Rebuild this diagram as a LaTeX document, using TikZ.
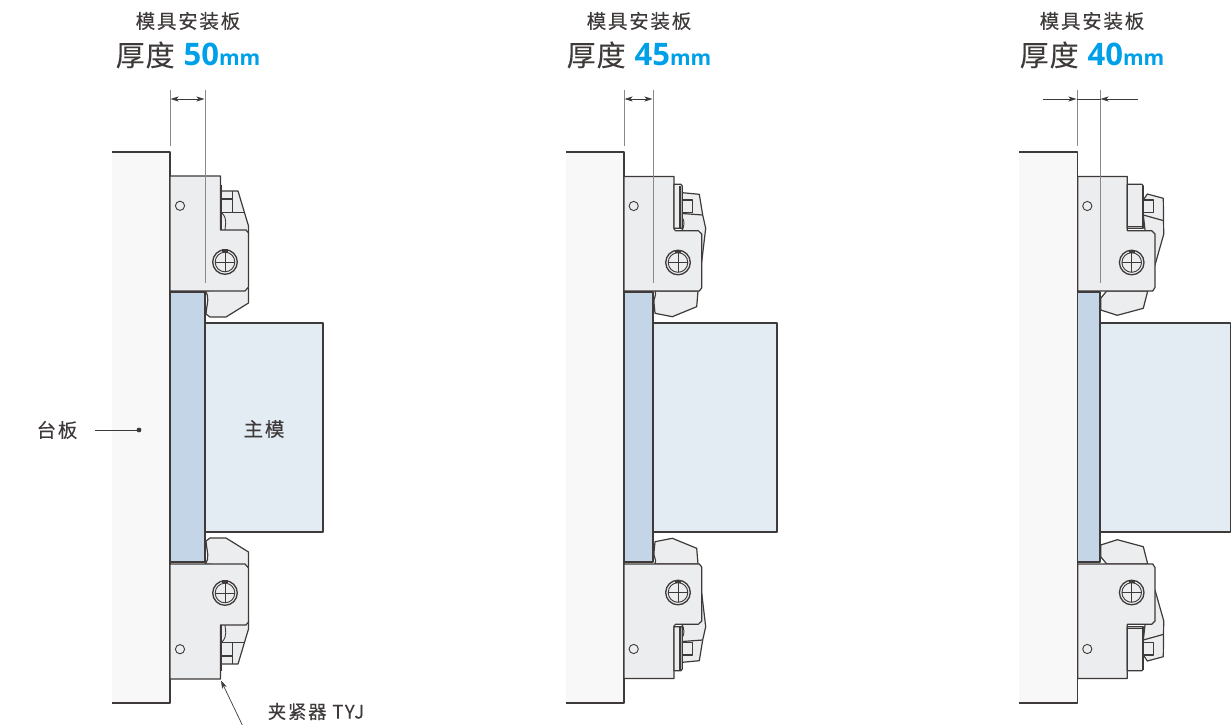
\documentclass[tikz,border=0pt]{standalone}
\usepackage{fontspec}
\setmainfont{Open Sans}
\newfontfamily\cjk[LetterSpace=9,FakeBold=0.15]{Noto Sans CJK SC}
\newfontfamily\cjkbig[LetterSpace=3,FakeBold=0.1]{Noto Sans CJK SC}
\usetikzlibrary{arrows.meta, positioning}
\definecolor{inkline}{HTML}{3E3A39}
\definecolor{dimline}{HTML}{8A8888}
\definecolor{platefill}{HTML}{F8F8F8}
\definecolor{bodyfill}{HTML}{ECEDEE}
\definecolor{shimfill}{HTML}{C3D5E6}
\definecolor{moldfill}{HTML}{E3EBF3}
\definecolor{valueblue}{HTML}{00A0E9}
\newcommand{\sizetext}[1]{{\cjkbig 厚度}\hspace{9pt}\textcolor{valueblue}{\bfseries\fontsize{31}{34}\selectfont #1{\fontsize{21}{24}\selectfont mm}}}
\tikzset{
  part/.style={draw=inkline, line width=1.2pt, line join=round},
  bodypart/.style={part, fill=bodyfill},
  thinpart/.style={draw=inkline, line width=.9pt},
  boldedge/.style={draw=inkline, line width=2pt},
  extline/.style={draw=dimline, line width=1pt},
  dimarrow/.style={draw=inkline, line width=.7pt, {Stealth[length=8pt,width=5pt,inset=2pt]}-{Stealth[length=8pt,width=5pt,inset=2pt]}},
  dimin/.style={draw=inkline, line width=.7pt, -{Stealth[length=8pt,width=5pt,inset=2pt]}},
  leader/.style={draw=inkline, line width=.7pt},
  smalltext/.style={inner sep=0pt, text=inkline, font=\cjk\fontsize{19.5}{22}\selectfont},
  bigtext/.style={inner sep=0pt, anchor=base, text=inkline, font=\fontsize{29}{32}\selectfont},
  lower/.style={shift={(0,855)}, yscale=-1},
  screw/.pic={
    \draw[thinpart, fill=bodyfill, line width=1.3pt] (0,0) circle (12.3);
    \draw[thinpart] (0,0) circle (9.8);
    \draw[thinpart] (-9.8,0) -- (9.8,0) (0,-9.8) -- (0,9.8);
    \fill[inkline] (-3,-13) rectangle (3,-10);
  },
  clampone/.pic={
    \path[bodypart] (205,291) .. controls (210,297) and (207,302) .. (206,314) -- (210,317) -- (226,317) -- (248.5,303) -- (248.5,288) -- cycle;
    \path[bodypart] (221,191) -- (238,191) -- (248.5,226) -- (248.5,234) -- (221,234) -- cycle;
    \path[part] (221.7,212.7) -- (243.5,212.7);
    \path[part] (232.3,191) -- (232.3,199);
    \path[bodypart] (221.7,199) rectangle (232.3,212.3);
    \path[thinpart] (222,213) .. controls (228,219) and (225,226) .. (225,230);
    \path[bodypart] (170,176) -- (220.5,176) -- (220.5,230) -- (246,230) -- (248.5,233) -- (248.5,287) -- (245,291) -- (170,291) -- cycle;
    \path[boldedge] (221.3,184.5) -- (221.3,230);
    \draw[thinpart] (180,205.8) circle (4.6);
    \pic at (225,262) {screw};
  },
  clamptwo/.pic={
    \path[bodypart] (655,291) .. controls (657,296) and (653,298) .. (654,303) -- (655,313.3) -- (672.3,316.7) -- (696.7,306.7) -- (698,291) -- cycle;
    \path[bodypart] (682.3,192.7) -- (699.3,194.3) -- (702.7,215) -- (705.7,228.3) -- (701.7,261.7) -- (690,261.7) -- (682.3,230.7) -- cycle;
    \path[part] (682.3,213.5) -- (702.7,215);
    \path[bodypart] (681.7,200) rectangle (692.3,212.3);
    \path[thinpart] (682,217) .. controls (685,221) and (684,226) .. (682.5,230);
    \path[bodypart] (624,176.5) -- (674,176.5) -- (674,229) -- (675.5,230.7) -- (698.3,230.7) -- (701.7,234) -- (701.7,288) -- (699.3,291) -- (624,291) -- cycle;
    \path[bodypart] (674,184.3) -- (681,184.3) -- (682.3,186) -- (682.3,228.3) -- (674,228.3) -- cycle;
    \path[boldedge] (680,185.5) -- (680,228);
    \draw[thinpart] (633.7,206) circle (4.6);
    \pic at (678,262.5) {screw};
  },
  clampthree/.pic={
    \path[bodypart] (1106.7,291) -- (1100.7,298.3) -- (1100.7,310) -- (1117.3,315.3) -- (1143.3,308.3) -- (1147.7,291) -- cycle;
    \path[bodypart] (1147.3,194) -- (1163.3,198.3) -- (1163.7,234.3) -- (1155,265) -- (1145,265) -- (1145,230) -- (1143.3,215) -- (1143.3,200) -- cycle;
    \path[part] (1143.3,215) -- (1163.7,220.7);
    \path[bodypart] (1142.7,200) rectangle (1153.3,212.3);
    \path[bodypart] (1127.3,176.5) -- (1127.3,230.7) -- (1151.7,230.7) -- (1155,234) -- (1155,287.5) -- (1152.7,291) -- (1077.7,291) -- (1077.7,176.5) -- cycle;
    \path[bodypart] (1127.3,184.3) -- (1142,184.3) -- (1143.3,186) -- (1143.3,228.3) -- (1127.3,228.3) -- cycle;
    \path[boldedge] (1143,185.5) -- (1143,228);
    \path[thinpart] (1127.3,226.5) -- (1142.5,226.5);
    \draw[thinpart] (1087.3,206) circle (4.6);
    \pic at (1131.7,262.5) {screw};
  }
}
\begin{document}
\begin{tikzpicture}[x=1pt,y=-1pt]
  \useasboundingbox (0,0) rectangle (1232,725);

  \path[part, fill=moldfill] (205,323) rectangle (323,532);
  \path[part, fill=shimfill] (170,292) rectangle (205,562);
  \fill[platefill] (112,152) rectangle (170,703);
  \path[part] (112,152) -- (170,152) -- (170,703) -- (112,703);
  \pic at (0,0) {clampone};
  \pic[lower] at (0,0) {clampone};
  \path[boldedge] (170,292) -- (205,292) (170,562) -- (205,562);

  \path[part, fill=moldfill] (653,323) rectangle (777,532);
  \path[part, fill=shimfill] (624,292) rectangle (653,562);
  \fill[platefill] (566,152) rectangle (624,703);
  \path[part] (566,152) -- (624,152) -- (624,703) -- (566,703);
  \pic at (0,0) {clamptwo};
  \pic[lower] at (0,0) {clamptwo};
  \path[boldedge] (624,292) -- (653,292) (624,562) -- (653,562);

  \path[part, fill=moldfill] (1100,323) rectangle (1230.5,532);
  \path[part, fill=shimfill] (1077.7,292) rectangle (1100,562);
  \fill[platefill] (1019,152) rectangle (1077.7,703);
  \path[part] (1019,152) -- (1077.7,152) -- (1077.7,703) -- (1019,703);
  \pic at (0,0) {clampthree};
  \pic[lower] at (0,0) {clampthree};
  \path[boldedge] (1077.7,292) -- (1100,292) (1077.7,562) -- (1100,562);

  \coordinate (e1a) at (170,90);
  \coordinate (e1b) at (170,145.5);
  \coordinate (e1c) at (205,90);
  \coordinate (e1d) at (205,283);
  \coordinate (d1a) at (170.5,99);
  \coordinate (d1b) at (204.5,99);
  \path[extline] (e1a) -- (e1b) (e1c) -- (e1d);
  \path[dimarrow] (d1a) -- (d1b);

  \coordinate (e2a) at (624,90);
  \coordinate (e2b) at (624,145.5);
  \coordinate (e2c) at (653,90);
  \coordinate (e2d) at (653,283);
  \coordinate (d2a) at (624.5,99);
  \coordinate (d2b) at (652.5,99);
  \path[extline] (e2a) -- (e2b) (e2c) -- (e2d);
  \path[dimarrow] (d2a) -- (d2b);

  \coordinate (e3a) at (1077,90);
  \coordinate (e3b) at (1077,145.5);
  \coordinate (e3c) at (1100,90);
  \coordinate (e3d) at (1100,283);
  \coordinate (d3a) at (1043.3,99);
  \coordinate (d3b) at (1076.5,99);
  \coordinate (d3c) at (1138.3,99);
  \coordinate (d3d) at (1100.5,99);
  \path[extline] (e3a) -- (e3b) (e3c) -- (e3d);
  \path[dimin] (d3a) -- (d3b);
  \path[dimin] (d3c) -- (d3d);
  \path[leader] (d3b) -- (d3d);

  \node[smalltext] (cap_1) at (188,21) {模具安装板};
  \node[smalltext] (cap_2) at (639,21) {模具安装板};
  \node[smalltext] (cap_3) at (1092,21) {模具安装板};
  \node[bigtext] (size_1) at (188,66) {\sizetext{50}};
  \node[bigtext] (size_2) at (639,66) {\sizetext{45}};
  \node[bigtext] (size_3) at (1092,66) {\sizetext{40}};

  \node[smalltext] (base) at (57,430) {台板};
  \coordinate (base_end) at (95,430);
  \coordinate (base_dot) at (139,430);
  \path[leader] (base_end) -- (base_dot);
  \fill[inkline] (base_dot) circle (2.4);
  \node[smalltext] (mold) at (264,429) {主模};

  \node[smalltext, font=\cjk\fontsize{18.5}{22}\selectfont] (clamp) at (316,711.5) {夹紧器 TYJ};
  \coordinate (clamp_tip) at (221,680.5);
  \coordinate (clamp_end) at (242.3,725);
  \path[dimin] (clamp_end) -- (clamp_tip);
\end{tikzpicture}
\end{document}
